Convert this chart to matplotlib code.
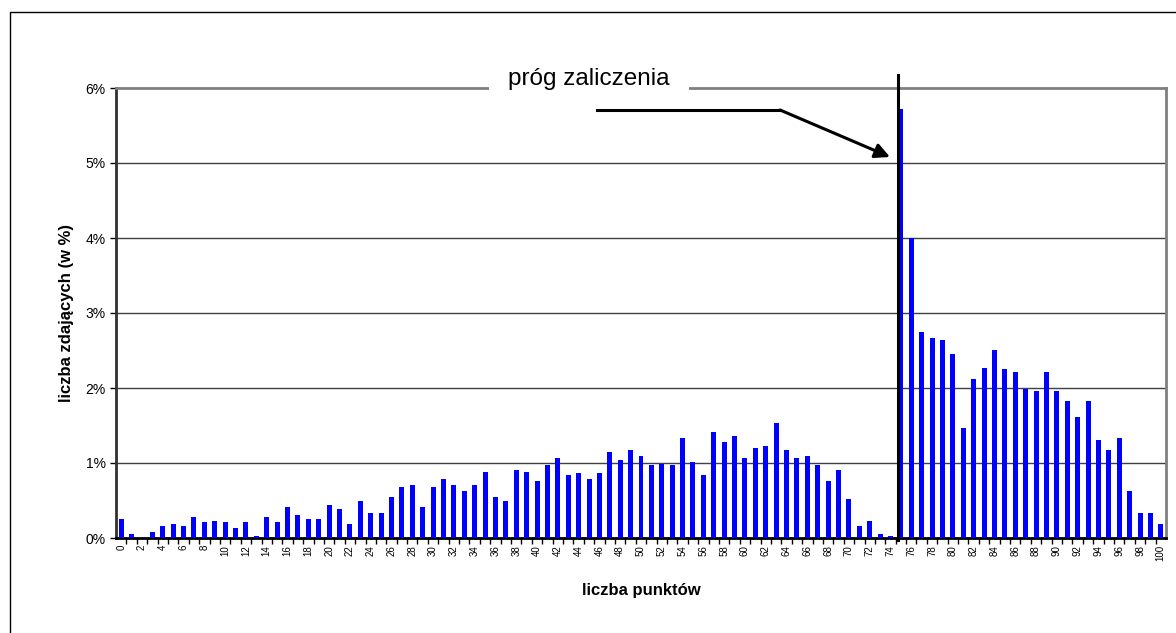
import matplotlib.pyplot as plt
from matplotlib.patches import Rectangle
from matplotlib.ticker import FixedLocator, PercentFormatter

# liczba punktów 0..100 i odsetek zdających (w %)
punkty = list(range(0, 101))
procent = [
    0.25, 0.05, 0.00, 0.08, 0.16, 0.19, 0.16, 0.28, 0.21, 0.23,
    0.21, 0.13, 0.21, 0.03, 0.28, 0.21, 0.41, 0.31, 0.25, 0.25,
    0.44, 0.39, 0.19, 0.49, 0.33, 0.33, 0.55, 0.68, 0.71, 0.41,
    0.68, 0.79, 0.71, 0.63, 0.71, 0.88, 0.55, 0.49, 0.91, 0.88,
    0.76, 0.97, 1.07, 0.84, 0.87, 0.79, 0.87, 1.15, 1.04, 1.17,
    1.09, 0.97, 0.99, 0.97, 1.33, 1.01, 0.84, 1.41, 1.28, 1.36,
    1.07, 1.20, 1.23, 1.53, 1.17, 1.07, 1.09, 0.97, 0.76, 0.91,
    0.52, 0.16, 0.23, 0.05, 0.03, 5.72, 4.00, 2.75, 2.67, 2.64,
    2.45, 1.47, 2.12, 2.27, 2.51, 2.25, 2.21, 1.99, 1.96, 2.21,
    1.96, 1.83, 1.61, 1.83, 1.31, 1.17, 1.33, 0.63, 0.33, 0.33,
    0.19,
]
prog = 74.72
opis_progu = "próg zaliczenia"

plt.rcParams['font.family'] = ['Liberation Sans', 'DejaVu Sans']

fig = plt.figure(figsize=(11.76, 6.33), dpi=100)
ax = fig.add_axes([116/1176, 1 - 538/633, 1050/1176, 450/633])

# ramka całego wykresu
fig.patches.append(Rectangle((10/1176, -0.1), 1.2, 1 - 12/633 + 0.1,
                             transform=fig.transFigure, fill=False,
                             edgecolor='black', linewidth=1))

ax.bar(punkty, procent, width=0.48, color='#0000ff', zorder=3)

ax.set_xlim(-0.5, 100.5)
ax.set_ylim(0, 6)

# siatka
for y in range(1, 6):
    ax.axhline(y, color='#404040', linewidth=1, zorder=1)

ax.spines['top'].set_color('#808080')
ax.spines['right'].set_color('#808080')
ax.spines['top'].set_linewidth(2)
ax.spines['right'].set_linewidth(2)
ax.spines['left'].set_linewidth(2)
ax.spines['bottom'].set_linewidth(2)
ax.spines['left'].set_color('#303030')

ax.yaxis.set_major_locator(FixedLocator(range(0, 7)))
ax.yaxis.set_major_formatter(PercentFormatter(decimals=0))
ax.tick_params(axis='y', labelsize=10, length=4, width=1)

ax.set_xticks(punkty[::2])
ax.set_xticklabels([str(p) for p in punkty[::2]], rotation=90, fontsize=7)
ax.tick_params(axis='x', which='major', length=0, pad=5)
ax.xaxis.set_minor_locator(FixedLocator([p + 0.5 for p in punkty[:-1]]))
ax.tick_params(axis='x', which='minor', length=4, width=1)

ax.set_ylabel("liczba zdających (w %)", fontsize=12, fontweight='bold', labelpad=8)
ax.set_xlabel("liczba punktów", fontsize=12, fontweight='bold', labelpad=16)

# próg zaliczenia
ax.plot([prog, prog], [-0.03, 6.17], color='black', linewidth=2.2,
        clip_on=False, zorder=5)
ax.text(45.0, 6.12, opis_progu, fontsize=17.5, ha='center', va='center',
        bbox=dict(facecolor='white', edgecolor='none', pad=14), zorder=6)
ax.plot([45.77, 63.37], [5.707, 5.707], color='black', linewidth=2.2, zorder=7)
ax.annotate('', xy=(73.95, 5.08), xytext=(63.37, 5.707),
            arrowprops=dict(arrowstyle='-|>', color='black', lw=2.2,
                            mutation_scale=22, shrinkA=0, shrinkB=0),
            zorder=7)

plt.savefig("out.png", dpi=100)
